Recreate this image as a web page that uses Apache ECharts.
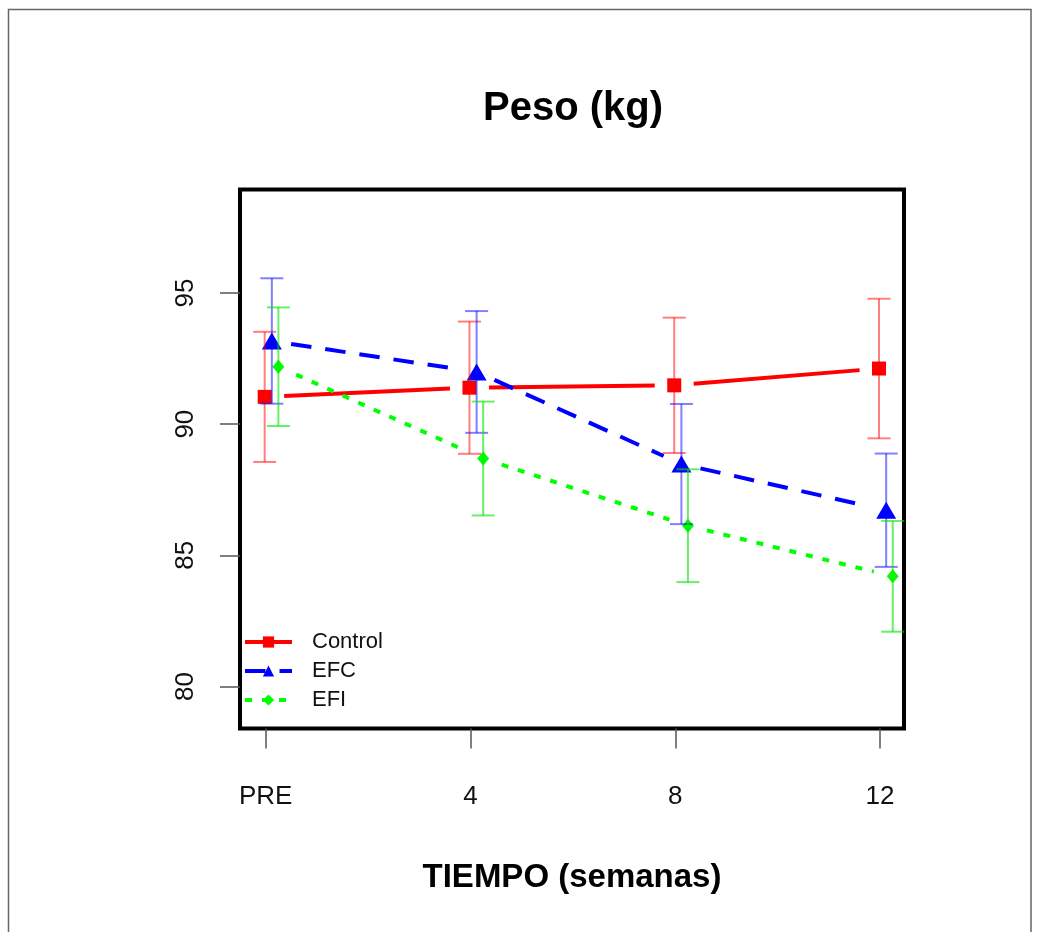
<!DOCTYPE html>
<html>
<head>
<meta charset="utf-8">
<script src="https://cdn.jsdelivr.net/npm/echarts@6/dist/echarts.min.js"></script>
<style>
html,body{margin:0;padding:0;background:#fff;}
#chart{width:1042px;height:932px;}
</style>
</head>
<body>
<div id="chart"></div>
<script>
// ---- data ----
const categories = ['PRE', '4', '8', '12'];
const yTicks = [80, 85, 90, 95];
const seriesNames = ['Control', 'EFC', 'EFI'];
const controlMean = [91.04, 91.39, 91.48, 92.12];
const controlErr  = [2.48, 2.52, 2.58, 2.66];
const efcMean = [93.17, 91.99, 88.48, 86.72];
const efcErr  = [2.39, 2.32, 2.29, 2.16];
const efiMean = [92.19, 88.69, 86.13, 84.20];
const efiErr  = [2.26, 2.17, 2.15, 2.11];

// ---- styling ----
const FONT = 'Liberation Sans, Arial, Helvetica, sans-serif';
const groups = [
  {name: seriesNames[0], mean: controlMean, err: controlErr, dodge: -0.005, color: '#FF0000', bar: 'rgba(255,0,0,0.5)',
   symbol: 'rect', size: [14, 14], dash: null, lineType: 'solid'},
  {name: seriesNames[1], mean: efcMean, err: efcErr, dodge: 0.03, color: '#0000FF', bar: 'rgba(0,0,255,0.5)',
   symbol: 'triangle', size: [20, 17], dash: [20.5, 14], lineType: [20.5, 14]},
  {name: seriesNames[2], mean: efiMean, err: efiErr, dodge: 0.062, color: '#00FF00', bar: 'rgba(0,230,0,0.6)',
   symbol: 'diamond', size: [12, 14], dash: [7, 10], lineType: [7, 10]}
];
const GAP = 19.5;   // R type="b" gap around points
const CAP = 11.5;   // half width of error bar caps

const series = [];
groups.forEach(function (g) {
  // line segments with gaps around the points
  const segData = [];
  for (let i = 0; i < g.mean.length - 1; i++) {
    segData.push([i + g.dodge, g.mean[i], i + 1 + g.dodge, g.mean[i + 1]]);
  }
  series.push({
    type: 'custom', name: g.name + '_seg', silent: true, z: 2,
    data: segData, encode: {x: [0, 2], y: [1, 3]},
    renderItem: function (params, api) {
      const a = api.coord([api.value(0), api.value(1)]);
      const b = api.coord([api.value(2), api.value(3)]);
      const dx = b[0] - a[0], dy = b[1] - a[1];
      const len = Math.sqrt(dx * dx + dy * dy);
      const ux = dx / len, uy = dy / len;
      const style = {stroke: g.color, lineWidth: 4, fill: null, lineCap: 'butt'};
      if (g.dash) style.lineDash = g.dash;
      return {
        type: 'line',
        shape: {x1: a[0] + ux * GAP, y1: a[1] + uy * GAP, x2: b[0] - ux * GAP, y2: b[1] - uy * GAP},
        style: style
      };
    }
  });
  // markers (line series so that the legend shows line + marker)
  series.push({
    type: 'line', name: g.name, z: 3, silent: true,
    data: g.mean.map(function (m, i) { return [i + g.dodge, m]; }),
    symbol: g.symbol, symbolSize: g.size, showSymbol: true,
    itemStyle: {color: g.color},
    lineStyle: {color: g.color, width: 4, type: g.lineType, opacity: 0},
    emphasis: {disabled: true}
  });
  // error bars
  series.push({
    type: 'custom', name: g.name + '_err', silent: true, z: 4,
    data: g.mean.map(function (m, i) { return [i + g.dodge, m - g.err[i], m + g.err[i]]; }),
    encode: {x: 0, y: [1, 2]},
    renderItem: function (params, api) {
      const lo = api.coord([api.value(0), api.value(1)]);
      const hi = api.coord([api.value(0), api.value(2)]);
      const st = {stroke: g.bar, lineWidth: 2, fill: null};
      return {
        type: 'group',
        children: [
          {type: 'line', shape: {x1: lo[0], y1: lo[1], x2: hi[0], y2: hi[1]}, style: st},
          {type: 'line', shape: {x1: lo[0] - CAP, y1: lo[1], x2: lo[0] + CAP, y2: lo[1]}, style: st},
          {type: 'line', shape: {x1: hi[0] - CAP, y1: hi[1], x2: hi[0] + CAP, y2: hi[1]}, style: st}
        ]
      };
    }
  });
});

const chart = echarts.init(document.getElementById('chart'), null, {renderer: 'canvas'});
chart.setOption({
  backgroundColor: '#ffffff',
  animation: false,
  textStyle: {fontFamily: FONT},
  grid: {left: 240, right: 138, top: 189.5, bottom: 203.5, show: true, borderColor: '#000', borderWidth: 4,
         backgroundColor: 'transparent', containLabel: false},
  xAxis: {
    type: 'value', min: -0.1255, max: 3.117,
    name: 'TIEMPO (semanas)', nameLocation: 'middle', nameGap: 133,
    nameTextStyle: {fontFamily: FONT, fontWeight: 'bold', fontSize: 33, color: '#000'},
    axisLine: {show: false, onZero: false},
    splitLine: {show: false},
    axisTick: {show: true, inside: false, length: 20, customValues: [0, 1, 2, 3],
               lineStyle: {color: '#555', width: 1.5}},
    axisLabel: {show: true, margin: 55, fontSize: 26, color: '#111', fontFamily: FONT,
                customValues: [0, 1, 2, 3],
                formatter: function (v) { return categories[Math.round(v)]; }}
  },
  yAxis: {
    type: 'value', min: 78.40, max: 98.944,
    axisLine: {show: false, onZero: false},
    splitLine: {show: false},
    axisTick: {show: true, inside: false, length: 20, customValues: yTicks,
               lineStyle: {color: '#555', width: 1.5}},
    axisLabel: {show: true, margin: 41, fontSize: 26, color: '#111', fontFamily: FONT, rotate: 90,
                customValues: yTicks,
                formatter: function (v) { return String(v); }}
  },
  legend: {
    show: true, orient: 'vertical', left: 243, top: 631, padding: 0,
    data: seriesNames,
    itemWidth: 47, itemHeight: 14, itemGap: 7,
    selectedMode: false,
    lineStyle: {opacity: 1, width: 4},
    textStyle: {fontSize: 22, color: '#111', fontFamily: FONT, lineHeight: 22, padding: [0, 0, 0, 15]}
  },
  graphic: [
    {type: 'rect', silent: true, z: -10, shape: {x: 8.5, y: 9.5, width: 1022.5, height: 1000},
     style: {fill: 'none', stroke: '#666', lineWidth: 1.5}},
    {type: 'text', silent: true, x: 573, y: 109,
     style: {text: 'Peso (kg)', fill: '#000', font: 'bold 40px ' + FONT, textAlign: 'center', textVerticalAlign: 'middle'}}
  ],
  series: series
});
</script>
</body>
</html>
